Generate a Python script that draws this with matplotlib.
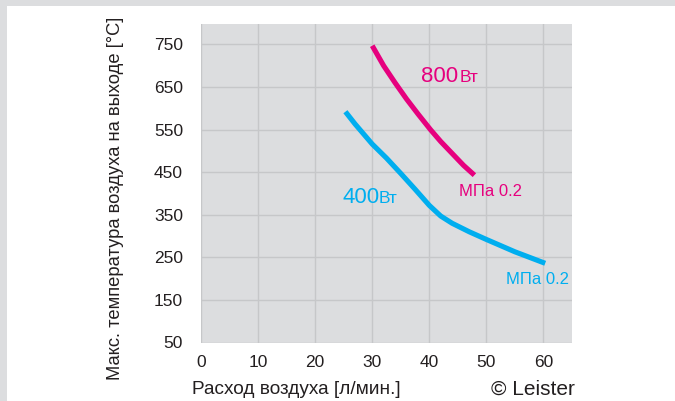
import matplotlib
matplotlib.use("Agg")
import matplotlib.pyplot as plt
from matplotlib.patches import Rectangle

plt.rcParams['font.family'] = ['Liberation Sans', 'DejaVu Sans']

# данные кривых (расход л/мин -> температура °C)
flow_800 = [30, 32, 34, 36, 38, 40.2, 42, 44, 46, 47.9]
temp_800 = [747, 700, 660, 622, 587, 550, 522, 494, 466, 443]
flow_400 = [25.3, 27, 30, 32.5, 35, 37.5, 40, 42, 44, 47, 50, 55, 60.3]
temp_400 = [592, 563, 516, 483, 447, 410, 372, 347, 330, 310, 292, 263, 236]

x_ticks = [0, 10, 20, 30, 40, 50, 60]
y_ticks = [50, 150, 250, 350, 450, 550, 650, 750]

magenta = '#e6007e'
cyan = '#00aeef'
bg = '#dcdddf'

fig = plt.figure(figsize=(6.75, 4.01), dpi=100)
fig.patch.set_facecolor('white')
fig.patches.append(Rectangle((0, 1 - 6 / 401), 1, 6 / 401, transform=fig.transFigure,
                             facecolor=bg, edgecolor='none', zorder=0))
fig.patches.append(Rectangle((0, 0), 7 / 675, 1, transform=fig.transFigure,
                             facecolor=bg, edgecolor='none', zorder=0))

ax = fig.add_axes([201 / 675, 58.5 / 401, 371 / 675, 318.5 / 401])
ax.set_facecolor(bg)
for s in ax.spines.values():
    s.set_visible(False)

ax.plot(flow_800, temp_800, color=magenta, lw=3.7, solid_capstyle='butt', solid_joinstyle='round')
ax.plot(flow_400, temp_400, color=cyan, lw=3.7, solid_capstyle='butt', solid_joinstyle='round')

ax.set_xlim(0, 65)
ax.set_ylim(50, 798)
ax.set_xticks(x_ticks)
ax.set_yticks(y_ticks)
ax.grid(True, color='#c6c7c9', lw=1)
ax.set_axisbelow(True)
ax.tick_params(length=0, labelsize=12.5, colors='#231f20')
ax.tick_params(axis='y', pad=13)
ax.tick_params(axis='x', pad=9)

ax.set_ylabel('Макс. температура воздуха на выходе [°C]', fontsize=13.2, color='#231f20')
ax.yaxis.set_label_coords(-0.2075, 0.4537)

fig.text(192 / 675, 1 - 390 / 401, 'Расход воздуха [л/мин.]', fontsize=13.7,
         color='#231f20', ha='left', va='center')
fig.text(575 / 675, 1 - 389 / 401, '© Leister', fontsize=15,
         color='#231f20', ha='right', va='center')

ax.text(38.6, 661, '800', color=magenta, fontsize=16, va='baseline')
ax.text(45.3, 661, 'Вт', color=magenta, fontsize=12.5, va='baseline')
ax.text(24.8, 377, '400', color=cyan, fontsize=16, va='baseline')
ax.text(31.1, 377, 'Вт', color=cyan, fontsize=12.5, va='baseline')
ax.text(45.2, 395, 'МПа 0.2', color=magenta, fontsize=12, va='baseline')
ax.text(53.5, 187, 'МПа 0.2', color=cyan, fontsize=12, va='baseline')

fig.savefig('out.png', dpi=100)
